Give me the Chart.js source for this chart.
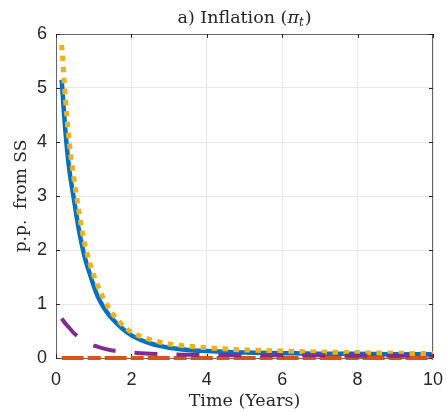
<!DOCTYPE html>
<html>
<head>
<meta charset="utf-8">
<script src="https://cdn.jsdelivr.net/npm/chart.js@4/dist/chart.umd.min.js"></script>
<style>
  body { margin: 0; background: #fff; }
  canvas { display: block; }
</style>
</head>
<body>
<canvas id="chart" width="446" height="412"></canvas>
<script>
// time in years
const times = [0.15, 0.25, 0.35, 0.45, 0.6, 0.75, 0.9, 1.1, 1.3, 1.5, 1.75, 2, 2.5, 3, 3.5, 4, 5, 6, 7, 8, 9, 10];
const blueVals = [5.15, 4.2, 3.5, 3.05, 2.4, 1.9, 1.55, 1.15, 0.9, 0.72, 0.55, 0.42, 0.27, 0.19, 0.15, 0.13, 0.1, 0.09, 0.08, 0.08, 0.07, 0.07];
const yellowVals = [5.8, 4.8, 4.0, 3.45, 2.75, 2.15, 1.75, 1.35, 1.05, 0.82, 0.62, 0.48, 0.34, 0.26, 0.22, 0.19, 0.15, 0.13, 0.11, 0.1, 0.09, 0.08];
const purpleVals = [0.73, 0.64, 0.56, 0.48, 0.39, 0.32, 0.26, 0.21, 0.17, 0.14, 0.12, 0.1, 0.08, 0.07, 0.06, 0.06, 0.05, 0.05, 0.05, 0.04, 0.04, 0.04];
const redVals = [0, 0, 0, 0, 0, 0, 0, 0, 0, 0, 0, 0, 0, 0, 0, 0, 0, 0, 0, 0, 0, 0];
const xTicks = [0, 2, 4, 6, 8, 10];
const yTicks = [0, 1, 2, 3, 4, 5, 6];

const toPoints = function (vals) {
    return vals.map(function (v, i) { return { x: times[i], y: v }; });
};

const lineSet = function (vals, color, width, dash) {
    return {
        data: toPoints(vals),
        borderColor: color,
        borderWidth: width,
        borderDash: dash,
        borderCapStyle: "butt",
        pointRadius: 0,
        cubicInterpolationMode: "monotone",
        clip: 8,
    };
};

// title, box and inward ticks like a matlab figure
const frame = {
    id: "frame",
    beforeDatasetsDraw(chart) {
        const ctx = chart.ctx;
        const a = chart.chartArea;
        const xs = chart.scales.x, ys = chart.scales.y;
        ctx.save();
        ctx.strokeStyle = "#666";
        ctx.lineWidth = 1;
        ctx.strokeRect(a.left + 0.5, a.top + 0.5, a.right - a.left - 1, a.bottom - a.top);
        ctx.strokeStyle = "#262626";
        ctx.beginPath();
        xTicks.forEach(function (t) {
            const px = Math.round(xs.getPixelForValue(t)) + 0.5;
            ctx.moveTo(px, a.bottom); ctx.lineTo(px, a.bottom - 4);
            ctx.moveTo(px, a.top); ctx.lineTo(px, a.top + 4);
        });
        yTicks.forEach(function (t) {
            const py = Math.round(ys.getPixelForValue(t)) + 0.5;
            ctx.moveTo(a.left, py); ctx.lineTo(a.left + 4, py);
            ctx.moveTo(a.right, py); ctx.lineTo(a.right - 4, py);
        });
        ctx.stroke();
        ctx.restore();
    },
    afterDraw(chart) {
        const ctx = chart.ctx;
        const a = chart.chartArea;
        const parts = [
            { t: "a) Inflation (", f: "17.5px 'DejaVu Serif'", dy: 0 },
            { t: "π", f: "italic 17.5px 'DejaVu Serif'", dy: 0 },
            { t: "t", f: "italic 12px 'DejaVu Serif'", dy: 3 },
            { t: ")", f: "17.5px 'DejaVu Serif'", dy: 0 },
        ];
        ctx.save();
        ctx.fillStyle = "#262626";
        ctx.textBaseline = "alphabetic";
        let w = 0;
        parts.forEach(function (p) { ctx.font = p.f; w += ctx.measureText(p.t).width + (p.t === "t" ? 1 : 0); });
        let x = (a.left + a.right) / 2 - w / 2;
        parts.forEach(function (p) {
            ctx.font = p.f;
            ctx.fillText(p.t, x, 23 + p.dy);
            x += ctx.measureText(p.t).width + (p.t === "t" ? 1 : 0);
        });
        ctx.restore();
    },
};

new Chart(document.getElementById("chart"), {
    type: "line",
    data: {
        datasets: [
            lineSet(purpleVals, "#7E2F8E", 4, [23, 19]),
            lineSet(yellowVals, "#EDB120", 5, [5.5, 5.5]),
            lineSet(redVals, "#D95319", 4, [22, 4, 13, 4]),
            lineSet(blueVals, "#0072BD", 4.5, []),
        ],
    },
    options: {
        responsive: false,
        animation: false,
        layout: { padding: { top: 34, right: 13, left: 0, bottom: 0 } },
        plugins: { legend: { display: false }, tooltip: { enabled: false }, title: { display: false } },
        scales: {
            x: {
                type: "linear", min: 0, max: 10,
                afterBuildTicks(s) { s.ticks = xTicks.map(function (v) { return { value: v }; }); },
                ticks: { padding: 11, maxRotation: 0, color: "#262626", font: { family: "Liberation Sans", size: 18 } },
                grid: { color: "#e8e8e8", drawTicks: false },
                border: { display: false },
                title: { display: true, text: "Time (Years)", color: "#262626", font: { family: "DejaVu Serif", size: 17.5 }, padding: { top: 0, bottom: 0 } },
                afterFit(s) { s.height = 54; s.paddingLeft = 0; s.paddingRight = 0; },
            },
            y: {
                min: 0, max: 6,
                afterBuildTicks(s) { s.ticks = yTicks.map(function (v) { return { value: v }; }); },
                ticks: { padding: 9, color: "#262626", font: { family: "Liberation Sans", size: 18 } },
                grid: { color: "#e8e8e8", drawTicks: false },
                border: { display: false },
                title: { display: true, text: "p.p.  from SS", color: "#262626", font: { family: "DejaVu Serif", size: 17 }, padding: { top: 11, bottom: 0 } },
                afterFit(s) { s.width = 56; s.paddingTop = 0; s.paddingBottom = 0; },
            },
        },
    },
    plugins: [frame],
});
</script>
</body>
</html>
